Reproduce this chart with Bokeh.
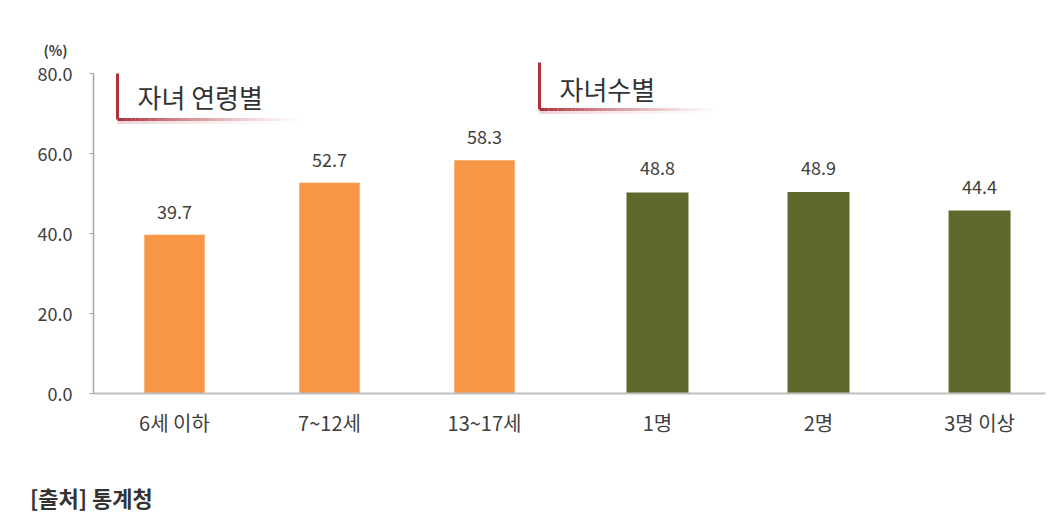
from bokeh.plotting import figure
from bokeh.layouts import column
from bokeh.models import Range1d, LinearAxis, FixedTicker, NumeralTickFormatter, Label, Title, Div
from bokeh.core.properties import value
from bokeh.embed import file_html
from bokeh.resources import INLINE

# ---- data ----
age_groups = ["6세 이하", "7~12세", "13~17세"]
age_values = [39.7, 52.7, 58.3]
count_groups = ["1명", "2명", "3명 이상"]
count_values = [48.8, 48.9, 44.4]
y_ticks = [0, 20, 40, 60, 80]
panel_titles = ["자녀 연령별", "자녀수별"]
unit_label = "(%)"
source_note = "[출처] 통계청"

# ---- layout ----
W, H = 1056, 480
FRAME_L, FRAME_T, FRAME_R, FRAME_B = 93, 60, 1045, 393
MB_L, MB_T, MB_R, MB_B = FRAME_L, FRAME_T, W - FRAME_R, H - FRAME_B
FRAME_W = FRAME_R - FRAME_L
FRAME_H = FRAME_B - FRAME_T
PX_X = 155.0
PX_Y_L = 4.0
PX_Y_R = 4.12
X0 = -81 / PX_X

ORANGE = "#f79646"
OLIVE = "#5d6a2b"
TXT = "#404040"
KFONT = "Noto Sans CJK KR"


def dx(page_x):
    return X0 + (page_x - FRAME_L) / PX_X


def dy(page_y):
    return (FRAME_B - page_y) / PX_Y_L


left_x = [float(i) for i in range(len(age_groups))]
right_x = [round(3.116 + 1.039 * j, 3) for j in range(len(count_groups))]

p = figure(width=W, height=H, output_backend="svg", toolbar_location=None,
           x_range=Range1d(X0, X0 + FRAME_W / PX_X),
           y_range=Range1d(0, FRAME_H / PX_Y_L),
           min_border_left=MB_L, min_border_right=MB_R,
           min_border_top=MB_T, min_border_bottom=MB_B,
           x_axis_location=None, y_axis_location=None)
p.extra_y_ranges = {"r": Range1d(0, FRAME_H / PX_Y_R)}
p.outline_line_color = None
p.xgrid.visible = False
p.ygrid.visible = False
p.background_fill_color = "white"

# y axis
yax = LinearAxis(ticker=FixedTicker(ticks=y_ticks), formatter=NumeralTickFormatter(format="0.0"))
yax.bounds = (0, 80)
yax.axis_line_color = "#a6a6a6"
yax.axis_line_width = 1.5
yax.major_tick_line_color = "#a6a6a6"
yax.major_tick_in = 0
yax.major_tick_out = 4
yax.minor_tick_line_color = None
yax.major_label_standoff = 17
yax.major_label_text_font = KFONT
yax.major_label_text_font_size = "18px"
yax.major_label_text_color = TXT
p.add_layout(yax, "left")

# x axis
ticks = left_x + right_x
labels = age_groups + count_groups
xax = LinearAxis(ticker=FixedTicker(ticks=ticks))
xax.major_label_overrides = {t: l for t, l in zip(ticks, labels)}
xax.axis_line_color = "#bfbfbf"
xax.axis_line_width = 2
xax.major_tick_line_color = None
xax.minor_tick_line_color = None
xax.major_label_standoff = 8
xax.major_label_text_font = KFONT
xax.major_label_text_font_size = "20px"
xax.major_label_text_color = TXT
p.add_layout(xax, "below")

# bars
p.vbar(x=left_x, top=age_values, bottom=0, width=0.39, fill_color=ORANGE, line_color=None)
p.vbar(x=right_x, top=count_values, bottom=0, width=0.40, fill_color=OLIVE, line_color=None,
       y_range_name="r")

# value labels
p.text(x=left_x, y=age_values, text=[f"{v:.1f}" for v in age_values],
       text_align="center", text_baseline="middle", y_offset=-23,
       text_font=value(KFONT), text_font_size="18px", text_color=TXT)
p.text(x=right_x, y=count_values, text=[f"{v:.1f}" for v in count_values],
       text_align="center", text_baseline="middle", y_offset=-24,
       text_font=value(KFONT), text_font_size="18px", text_color=TXT,
       y_range_name="r")


# panel title brackets
def bracket(px, py_top, py_bot, px_end, title, text_px, text_py):
    n = 40
    xs0, xs1, alphas = [], [], []
    step = (px_end - px) / n
    for k in range(n):
        xs0.append(dx(px + k * step))
        xs1.append(dx(px + (k + 1) * step))
        alphas.append(max(0.0, 1 - k / n) ** 1.3)
    p.segment(x0=xs0, y0=[dy(py_bot + 3)] * n, x1=xs1, y1=[dy(py_bot + 3)] * n,
              line_color="#e8b7bc", line_alpha=[a * 0.6 for a in alphas], line_width=3)
    p.segment(x0=xs0, y0=[dy(py_bot)] * n, x1=xs1, y1=[dy(py_bot)] * n,
              line_color="#b0303c", line_alpha=alphas, line_width=3)
    p.segment(x0=[dx(px)], y0=[dy(py_top)], x1=[dx(px)], y1=[dy(py_bot)],
              line_color="#b0303c", line_width=3)
    p.add_layout(Label(x=dx(text_px), y=dy(text_py), text=title, text_font=KFONT,
                       text_font_size="26px", text_color="#333333",
                       text_baseline="middle", text_align="left"))


bracket(117, 73, 119, 300, panel_titles[0], 137, 96)
bracket(539, 62, 109, 720, panel_titles[1], 559, 88)

# unit label (above the y axis)
p.add_layout(Title(text=unit_label, align="left", offset=-50, standoff=2,
                   text_font=KFONT, text_font_size="14px", text_font_style="bold",
                   text_color=TXT), "above")

# source note (below the chart)
note = Div(text=source_note, width=400, height=34, margin=(0, 0, 0, 30),
           styles={"font-family": KFONT, "font-size": "22px", "font-weight": "bold",
                   "color": "#333333", "line-height": "34px"})

layout = column(p, note, spacing=0)
open("out.html", "w").write(file_html(layout, INLINE))
